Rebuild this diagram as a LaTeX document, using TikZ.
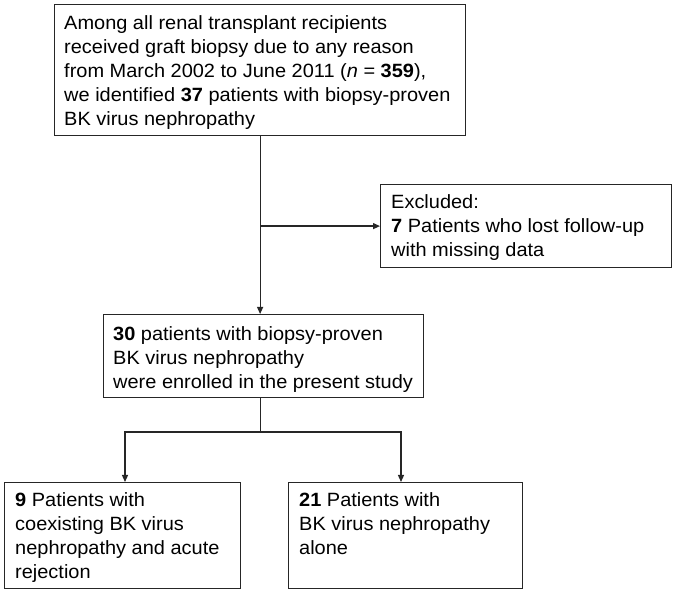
\documentclass[tikz,border=0pt]{standalone}
\usepackage{fontspec}
\setmainfont{Liberation Sans}[FakeStretch=1.04]
\usetikzlibrary{arrows.meta}
\begin{document}
\begin{tikzpicture}[x=1pt,y=-1pt,
  box/.style={draw=black!85, line width=1.2pt, rectangle, inner sep=0pt, anchor=north west},
  txt/.style={anchor=north west, inner sep=0pt, align=left, font=\fontsize{19.2}{24}\selectfont},
  conn/.style={draw=black!85, line width=1.2pt},
  arr/.style={conn, -{Triangle[length=7pt,width=6pt]}}]
\useasboundingbox (0,0) rectangle (675,593);
% boxes
\node[box, minimum width=411pt, minimum height=131pt] (top) at (54,4) {};
\node[box, minimum width=291pt, minimum height=83pt] (excl) at (380,184) {};
\node[box, minimum width=320pt, minimum height=83pt] (mid) at (103,314) {};
\node[box, minimum width=236pt, minimum height=106pt] (lb) at (4,482) {};
\node[box, minimum width=234pt, minimum height=106pt] (rb) at (288,482) {};
% texts
\node[txt] (toptxt) at (64,12.2) {\strut Among all renal transplant recipients\\received graft biopsy due to any reason\\from March 2002 to June 2011 (\textit{n} = \textbf{359}),\\we identified \textbf{37} patients with biopsy-proven\\BK virus nephropathy};
\node[txt] (excltxt) at (391,191.2) {\strut Excluded:\\\textbf{7} Patients who lost follow-up\\with missing data};
\node[txt] (midtxt) at (113,323.2) {\strut\textbf{30} patients with biopsy-proven\\BK virus nephropathy\\were enrolled in the present study};
\node[txt] (lbtxt) at (15,489.2) {\strut\textbf{9} Patients with\\coexisting BK virus\\nephropathy and acute\\rejection};
\node[txt] (rbtxt) at (299,489.2) {\strut\textbf{21} Patients with\\BK virus nephropathy\\alone};
% connectors
\draw[arr] (top.south) -- (top.south |- mid.north);
\draw[arr] (top.south |- excl.west) -- (excl.west);
\coordinate (jl) at (125,432);
\coordinate (jr) at (401,432);
\draw[arr] (top.south |- mid.south) -- (top.south |- jl) -- (jl) -- (jl |- lb.north);
\draw[arr] (top.south |- jl) -- (jr) -- (jr |- rb.north);
\end{tikzpicture}
\end{document}
